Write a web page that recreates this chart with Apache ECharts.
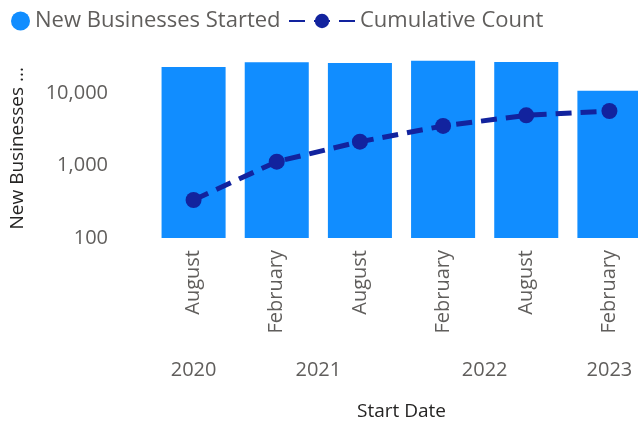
<!DOCTYPE html>
<html>
<head>
<meta charset="utf-8">
<script src="https://cdn.jsdelivr.net/npm/echarts@6/dist/echarts.min.js"></script>
<style>
  html, body { margin: 0; padding: 0; background: #fff; }
  #chart { width: 638px; height: 424px; }
</style>
</head>
<body>
<div id="chart"></div>
<script>
  // data
  const months = ['August', 'February', 'August', 'February', 'August', 'February']
  const years = [2020, 2021, 2021, 2022, 2022, 2023]
  const newBusinesses = [22900, 26500, 25900, 27900, 26800, 10760]
  const cumulativeCount = [334, 1130, 2130, 3510, 4920, 5650]
  const yTicks = [100, 1000, 10000]

  // year label sits in the middle of its months
  const yearCenters = []
  const yearNames = []
  years.forEach((y, i) => {
    const k = yearNames.indexOf(y)
    if (k < 0) {
      yearNames.push(y)
      yearCenters.push([i])
    } else {
      yearCenters[k].push(i)
    }
  })
  const yearPos = yearCenters.map(list => list.reduce((a, b) => a + b, 0) / list.length)

  const font = '"Open Sans", "Noto Sans", sans-serif'
  const grey = '#605E5C'
  const legendText = { fontSize: 22, color: grey, fontFamily: font }

  const chart = echarts.init(document.getElementById('chart'))
  chart.setOption({
    animation: false,
    textStyle: { fontFamily: font },
    legend: [
      {
        left: 6,
        top: 5,
        itemWidth: 19,
        itemHeight: 19,
        itemGap: 4,
        textStyle: legendText,
        data: [{ name: 'New Businesses Started', icon: 'circle' }]
      },
      {
        left: 283,
        top: 5,
        itemWidth: 66,
        itemHeight: 18,
        textStyle: legendText,
        data: ['Cumulative Count']
      }
    ],
    grid: { left: 152, top: 20.5, width: 499, height: 217.5, outerBoundsMode: 'none' },
    xAxis: [
      {
        type: 'category',
        data: months,
        axisLine: { show: false },
        axisTick: { show: false },
        axisLabel: { rotate: 90, margin: 12, fontSize: 20, color: grey, fontFamily: font }
      },
      {
        type: 'value',
        position: 'bottom',
        min: -0.5,
        max: months.length - 0.5,
        axisLine: { show: false },
        axisTick: { show: false },
        splitLine: { show: false },
        axisLabel: {
          margin: 122,
          fontSize: 20,
          color: grey,
          fontFamily: font,
          customValues: yearPos,
          formatter: v => {
            const k = yearPos.indexOf(v)
            return k >= 0 ? String(yearNames[k]) : ''
          }
        },
        name: 'Start Date',
        nameLocation: 'middle',
        nameGap: 164,
        nameTextStyle: { fontSize: 19, color: '#252423', fontFamily: font }
      }
    ],
    yAxis: {
      type: 'log',
      logBase: 10,
      min: 100,
      max: 100000,
      axisLine: { show: false },
      axisTick: { show: false },
      splitLine: { show: false },
      axisLabel: {
        margin: 44,
        fontSize: 20,
        color: grey,
        fontFamily: font,
        showMaxLabel: false,
        formatter: v => (yTicks.includes(v) ? v.toLocaleString('en-US') : '')
      },
      name: 'New Businesses ...',
      nameLocation: 'middle',
      nameGap: 125,
      nameTextStyle: { fontSize: 19, color: '#252423', fontFamily: font, padding: [0, 38, 0, 0] }
    },
    series: [
      {
        name: 'New Businesses Started',
        type: 'bar',
        data: newBusinesses,
        barWidth: '77%',
        itemStyle: { color: '#118DFF' }
      },
      {
        name: 'Cumulative Count',
        type: 'line',
        data: cumulativeCount,
        symbol: 'circle',
        symbolSize: 16,
        itemStyle: { color: '#12239E' },
        lineStyle: { color: '#12239E', width: 5, type: [16, 9] }
      }
    ]
  })
</script>
</body>
</html>
